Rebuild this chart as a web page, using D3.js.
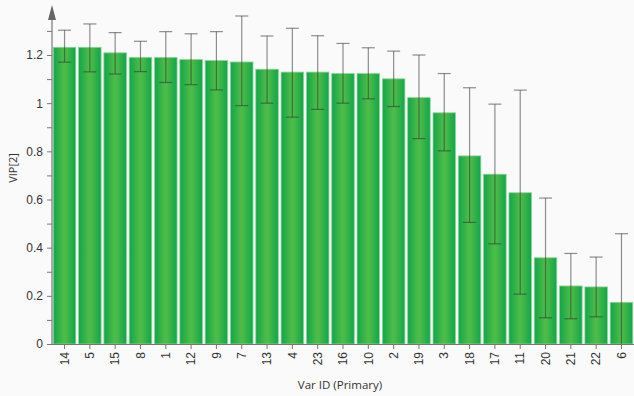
<!DOCTYPE html>
<html>
<head>
<meta charset="utf-8">
<script src="https://cdn.jsdelivr.net/npm/d3@7"></script>
<style>
  html, body { margin: 0; padding: 0; background: #fafafa; }
  svg { display: block; font-family: "Open Sans", "Noto Sans", sans-serif; }
</style>
</head>
<body>
<svg id="chart" width="634" height="396"></svg>
<script>
// Variable IDs, ordered by VIP value
const varIds = ["14","5","15","8","1","12","9","7","13","4","23","16","10","2","19","3","18","17","11","20","21","22","6"];
// VIP[2] per variable
const vip = [1.232,1.232,1.209,1.190,1.190,1.181,1.177,1.171,1.141,1.129,1.129,1.123,1.123,1.101,1.023,0.960,0.781,0.705,0.628,0.358,0.241,0.237,0.173];
// Confidence interval bounds
const ciHigh = [1.303,1.329,1.293,1.257,1.297,1.288,1.297,1.362,1.279,1.311,1.280,1.248,1.230,1.216,1.200,1.123,1.064,0.996,1.054,0.606,0.376,0.361,0.458];
const ciLow  = [1.170,1.130,1.121,1.131,1.086,1.077,1.055,0.990,1.000,0.942,0.974,1.000,1.018,0.986,0.853,0.802,0.505,0.416,0.207,0.109,0.105,0.113,-0.112];
// Axis tick values
const yMajor = [0, 0.2, 0.4, 0.6, 0.8, 1, 1.2];
const yMinor = [0.1, 0.3, 0.5, 0.7, 0.9, 1.1, 1.3];

const svg = d3.select("#chart");
const plotLeft = 52, plotRight = 634, plotBottom = 344;

const x = d3.scaleBand().domain(varIds).range([plotLeft, plotRight]).paddingInner(0.11).paddingOuter(0.05);
const y = d3.scaleLinear().domain([0, 1.2]).range([plotBottom, 55]);

const defs = svg.append("defs");
const grad = defs.append("linearGradient").attr("id", "barGrad")
  .attr("x1", "0%").attr("x2", "100%").attr("y1", "0%").attr("y2", "0%");
grad.append("stop").attr("offset", "0%").attr("stop-color", "#10a64a");
grad.append("stop").attr("offset", "45%").attr("stop-color", "#4cbb48");
grad.append("stop").attr("offset", "55%").attr("stop-color", "#4cbb48");
grad.append("stop").attr("offset", "100%").attr("stop-color", "#10a64a");
defs.append("clipPath").attr("id", "plotClip")
  .append("rect").attr("x", plotLeft).attr("y", 0).attr("width", plotRight - plotLeft).attr("height", plotBottom);

const data = varIds.map((id, i) => ({ id, v: vip[i], hi: ciHigh[i], lo: ciLow[i] }));

// Bars
svg.append("g").selectAll("rect").data(data).join("rect")
  .attr("x", d => x(d.id))
  .attr("y", d => y(d.v))
  .attr("width", x.bandwidth())
  .attr("height", d => y(0) - y(d.v))
  .attr("fill", "url(#barGrad)")
  .attr("stroke", "#8fd49a")
  .attr("stroke-width", 0.8);

// Error bars
const eb = svg.append("g").attr("clip-path", "url(#plotClip)")
  .attr("stroke", "#333").attr("stroke-opacity", 0.55).attr("stroke-width", 1.2);
const capW = 13;
data.forEach(d => {
  const cx = x(d.id) + x.bandwidth() / 2;
  eb.append("line").attr("x1", cx).attr("x2", cx).attr("y1", y(d.hi)).attr("y2", y(d.lo));
  eb.append("line").attr("x1", cx - capW / 2).attr("x2", cx + capW / 2).attr("y1", y(d.hi)).attr("y2", y(d.hi));
  eb.append("line").attr("x1", cx - capW / 2).attr("x2", cx + capW / 2).attr("y1", y(d.lo)).attr("y2", y(d.lo));
});

// Y axis
const yAxis = d3.axisLeft(y).tickValues(yMajor).tickSize(5).tickPadding(4)
  .tickFormat(d => d3.format("~g")(d));
const gy = svg.append("g").attr("transform", `translate(${plotLeft},0)`).call(yAxis);
gy.select(".domain").remove();
gy.selectAll(".tick line").attr("stroke", "#777");
gy.selectAll(".tick text").attr("fill", "#333").style("font-size", "12px");
svg.append("g").attr("transform", `translate(${plotLeft},0)`)
  .call(d3.axisLeft(y).tickValues(yMinor).tickSize(5).tickFormat(""))
  .call(g => g.select(".domain").remove())
  .selectAll(".tick line").attr("stroke", "#777");
svg.append("line").attr("x1", plotLeft).attr("x2", plotLeft).attr("y1", 14).attr("y2", plotBottom)
  .attr("stroke", "#777").attr("stroke-width", 1.2);
svg.append("path").attr("d", `M${plotLeft - 4},${20} L${plotLeft},${5} L${plotLeft + 4},${20} Z`).attr("fill", "#666");

// X axis
const gx = svg.append("g").attr("transform", `translate(0,${plotBottom})`)
  .call(d3.axisBottom(x).tickSize(5).tickPadding(3));
gx.select(".domain").attr("stroke", "#777").attr("d", `M${plotLeft},0.5H${plotRight}`);
gx.selectAll(".tick line").attr("stroke", "#777");
gx.selectAll(".tick text")
  .attr("fill", "#333").style("font-size", "12px")
  .attr("transform", "rotate(-90)")
  .attr("text-anchor", "end")
  .attr("x", -8).attr("y", 0).attr("dy", "0.35em");

// Axis titles
svg.append("text").attr("x", 340).attr("y", 389).attr("text-anchor", "middle")
  .attr("fill", "#333").style("font-size", "11.5px").text("Var ID (Primary)");
svg.append("text").attr("transform", "translate(17,168) rotate(-90)").attr("text-anchor", "middle")
  .attr("fill", "#333").style("font-size", "11px").text("VIP[2]");
</script>
</body>
</html>
